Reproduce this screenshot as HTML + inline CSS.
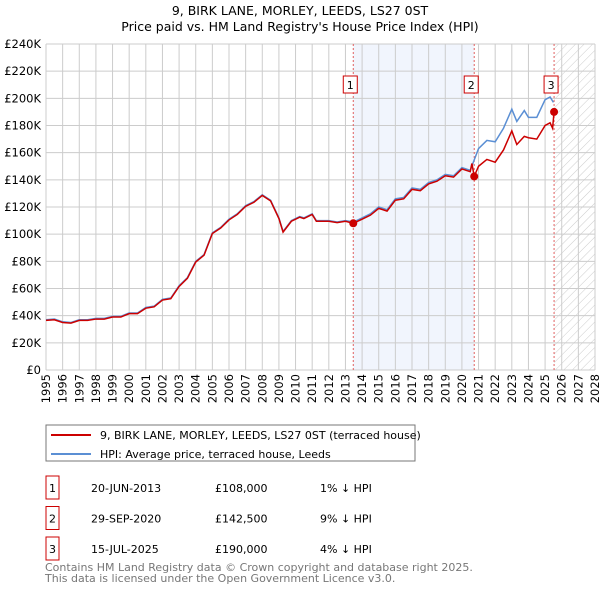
<!DOCTYPE html>
<html><head><meta charset="utf-8"><style>
body{margin:0;background:#fff;font-family:"Liberation Sans","DejaVu Sans",sans-serif;}
svg text{font-family:"DejaVu Sans","Liberation Sans",sans-serif;}
</style></head><body>
<svg id="c" width="600" height="590" xmlns="http://www.w3.org/2000/svg">
<defs><pattern id="hatch" width="6" height="6" patternUnits="userSpaceOnUse" patternTransform="rotate(45)"><line x1="0" y1="0" x2="0" y2="6" stroke="#ccc" stroke-width="1"/></pattern></defs>
<text x="300" y="15" text-anchor="middle" font-size="12.5">9, BIRK LANE, MORLEY, LEEDS, LS27 0ST</text>
<text x="300" y="31" text-anchor="middle" font-size="12.5">Price paid vs. HM Land Registry's House Price Index (HPI)</text>
<g id="grid"></g><g id="marks"></g><g id="axes"></g>
<rect x="46" y="425" width="369" height="36" fill="#fff" stroke="#777"/>
<line x1="51" y1="435" x2="91" y2="435" stroke="#cc0000" stroke-width="2"/>
<text x="100" y="439" font-size="11">9, BIRK LANE, MORLEY, LEEDS, LS27 0ST (terraced house)</text>
<line x1="51" y1="454" x2="91" y2="454" stroke="#5b8fd4" stroke-width="2"/>
<text x="100" y="458" font-size="11">HPI: Average price, terraced house, Leeds</text>
<g id="table" font-size="11"></g>
<text x="45" y="571" font-size="11" fill="#777">Contains HM Land Registry data © Crown copyright and database right 2025.</text>
<text x="45" y="582" font-size="11" fill="#777">This data is licensed under the Open Government Licence v3.0.</text>
</svg>
<script>
const hpiYears=[1995,1995.5,1996,1996.5,1997,1997.5,1998,1998.5,1999,1999.5,2000,2000.5,2001,2001.5,2002,2002.5,2003,2003.5,2004,2004.5,2005,2005.5,2006,2006.5,2007,2007.5,2008,2008.5,2009,2009.25,2009.75,2010.25,2010.5,2011,2011.25,2012,2012.5,2013,2013.5,2014,2014.5,2015,2015.5,2016,2016.5,2017,2017.5,2018,2018.5,2019,2019.5,2020,2020.5,2020.75,2021,2021.5,2022,2022.5,2023,2023.3,2023.75,2024,2024.5,2025,2025.3,2025.5];
const hpiValues=[37,37.5,35.5,35,37,37,38,38,39.5,39.5,42,42,46,47,52,53,62,68,80,85,101,105,111,115,121,124,129,125,112,102,110,113,112,115,110,110,109,110,109,112,115,120,118,126,127,134,133,138,140,144,143,149,147,155,163,169,168,178,192,183,191,186,186,199,201,197];
const priceYears=[1995,1995.5,1996,1996.5,1997,1997.5,1998,1998.5,1999,1999.5,2000,2000.5,2001,2001.5,2002,2002.5,2003,2003.5,2004,2004.5,2005,2005.5,2006,2006.5,2007,2007.5,2008,2008.5,2009,2009.25,2009.75,2010.25,2010.5,2011,2011.25,2012,2012.5,2013,2013.47,2014,2014.5,2015,2015.5,2016,2016.5,2017,2017.5,2018,2018.5,2019,2019.5,2020,2020.5,2020.6,2020.74,2021,2021.5,2022,2022.5,2023,2023.3,2023.75,2024,2024.5,2025,2025.3,2025.45,2025.54];
const priceValues=[36.5,37,35,34.5,36.5,36.5,37.5,37.5,39,39,41.5,41.5,45.5,46.5,51.5,52.5,61.5,67.5,79.5,84.5,100.5,104.5,110.5,114.5,120.5,123.5,128.5,124.5,111.5,101.5,109.5,112.5,111.5,114.5,109.5,109.5,108.5,109.5,108,111,114,119,117,125,126,133,132,137,139,143,142,148,146,152,142.5,150,155,153,162,176,166,172,171,170,180,182,178,190];
const sales=[{n:"1",y:2013.47,v:108,d:"20-JUN-2013",p:"£108,000",h:"1% ↓ HPI"},{n:"2",y:2020.74,v:142.5,d:"29-SEP-2020",p:"£142,500",h:"9% ↓ HPI"},{n:"3",y:2025.54,v:190,d:"15-JUL-2025",p:"£190,000",h:"4% ↓ HPI"}];
const yTicks=[0,20,40,60,80,100,120,140,160,180,200,220,240];
const X0=46,X1=595,Y0=370,Y1=44;
const xs=y=>X0+(y-1995)/(2028-1995)*(X1-X0);
const ys=v=>Y0-v/240*(Y0-Y1);
const NS="http://www.w3.org/2000/svg";
function mk(p,t,a){const e=document.createElementNS(NS,t);for(const k in a)e.setAttribute(k,a[k]);p.appendChild(e);return e;}
const grid=document.getElementById('grid'),marks=document.getElementById('marks'),axes=document.getElementById('axes'),tb=document.getElementById('table');
const shade=mk(grid,'rect',{x:xs(sales[0].y),y:Y1,width:xs(sales[1].y)-xs(sales[0].y),height:Y0-Y1,fill:'#eef3fc',opacity:0.8});


const hat=mk(grid,'rect',{x:xs(2025.54),y:Y1,width:X1-xs(2025.54),height:Y0-Y1,fill:'url(#hatch)'});


for(let yr=1995;yr<=2028;yr++){
 const l=mk(grid,'line',{x1:xs(yr),x2:xs(yr),y1:Y1,y2:Y0,stroke:'#ccc','stroke-width':1});
 
 
 const t=mk(axes,'text',{transform:`translate(${xs(yr)+4},${Y0+4}) rotate(-90)`,'text-anchor':'end','font-size':11.5});
 t.textContent=yr;
 
 
}
yTicks.forEach(v=>{
 const l=mk(grid,'line',{x1:X0,x2:X1,y1:ys(v),y2:ys(v),stroke:'#ccc','stroke-width':1});
 
 
 const t=mk(axes,'text',{x:X0-5,y:ys(v)+4,'text-anchor':'end','font-size':11.5});
 t.textContent=v===0?'£0':'£'+v+'K';
 
 
});
sales.forEach(s=>{
 const l=mk(marks,'line',{x1:xs(s.y),x2:xs(s.y),y1:Y1,y2:Y0,stroke:'#e06060','stroke-dasharray':'2,2','stroke-width':1});
 
 
 const b=mk(marks,'rect',{x:xs(s.y)-10,y:76,width:14,height:17,fill:'#fff',stroke:'#cc0000'});
 
 
 const t=mk(marks,'text',{x:xs(s.y)-3,y:89,'text-anchor':'middle','font-size':11});
 t.textContent=s.n;
 
 
});
const hp=mk(marks,'polyline',{points:hpiYears.map((y,i)=>xs(y)+','+ys(hpiValues[i])).join(' '),fill:'none',stroke:'#5b8fd4','stroke-width':1.5});


const pp=mk(marks,'polyline',{points:priceYears.map((y,i)=>xs(y)+','+ys(priceValues[i])).join(' '),fill:'none',stroke:'#cc0000','stroke-width':1.5});


sales.forEach((s,i)=>{
 const d=mk(marks,'circle',{cx:xs(s.y),cy:ys(s.v),r:4,fill:'#cc0000'});
 
 
 const ry=484+i*30.5;
 const b=mk(tb,'rect',{x:46,y:ry-8,width:13,height:23,fill:'none',stroke:'#cc0000'});
 
 
 const cols=[[52.5,s.n,'middle'],[91,s.d,'start'],[215,s.p,'start'],[320,s.h,'start']];
 cols.forEach(c=>{const t=mk(tb,'text',{x:c[0],y:ry+8,'text-anchor':c[2]});t.textContent=c[1];
 
 });
});
</script>
</body></html>
